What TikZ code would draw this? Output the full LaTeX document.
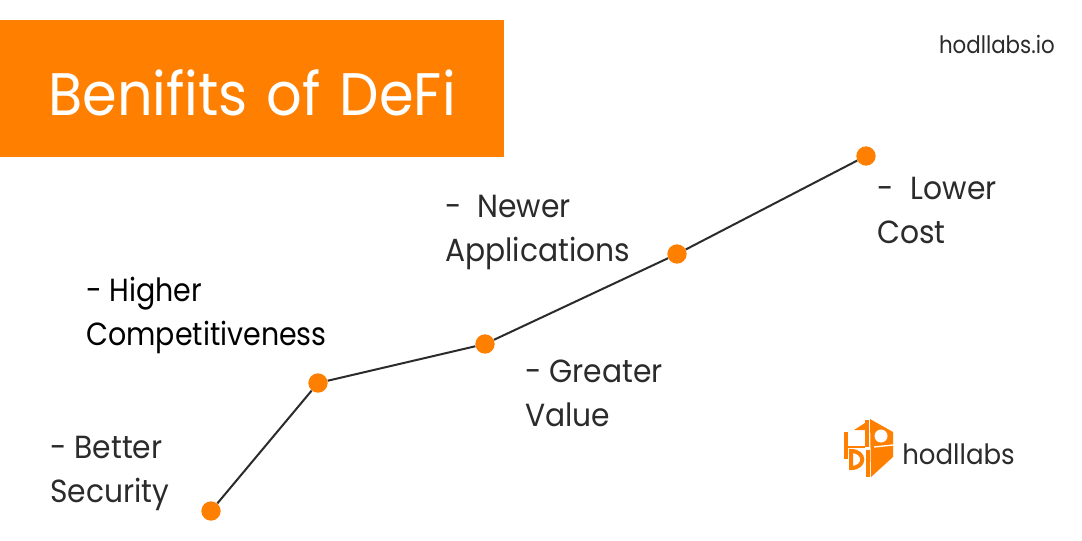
\documentclass[tikz,border=0pt]{standalone}
\usepackage{fontspec}
\setmainfont{Poppins}[FakeStretch=0.93]
\newfontfamily\titlefont{Poppins}[FakeStretch=0.93]
\newfontfamily\tightfont{Poppins}[FakeStretch=0.89]
\definecolor{hodl}{HTML}{FF8000}
\definecolor{ink}{HTML}{2B2B2B}
\tikzset{
 dot/.style={circle,fill=hodl,draw=none,minimum size=14.5pt,inner sep=0pt},
 lab/.style={anchor=north west,inner sep=0pt,align=left,font=\fontsize{24}{33}\selectfont,text=ink},
 lnk/.style={draw=ink,line width=1.5pt},
}
\begin{document}
\begin{tikzpicture}[x=0.75pt,y=-0.75pt]
\useasboundingbox (0,0) rectangle (1082,540);
\fill[white] (0,0) rectangle (1082,540);
\node[fill=hodl,minimum width=378pt,minimum height=102.75pt,anchor=north west,inner sep=0pt] (banner) at (0,20) {};
\node[anchor=west,inner sep=0pt,text=white,font=\titlefont\fontsize{45}{50}\selectfont] (title) at (48,93) {Benifits\hspace{3pt} of\hspace{3pt} DeFi};
\node[anchor=east,inner sep=0pt,font=\tightfont\fontsize{18}{20}\selectfont,text=ink] (site) at (1055,44) {hodllabs.io};
\node[dot] (a) at (211,511) {};
\node[dot] (b) at (318,383) {};
\node[dot] (c) at (485,344) {};
\node[dot] (d) at (677,254) {};
\node[dot] (e) at (866,156) {};
\draw[lnk] (a)--(b)--(c)--(d)--(e);
\node[lab] (l1) at (50,436) {- Better\\Security};
\node[lab,text=black,font=\tightfont\fontsize{24}{33}\selectfont] (l2) at (86,277) {- Higher\\Competitiveness};
\node[lab] (l3) at (525,360) {- Greater\\Value};
\node[lab] (l4) at (445,195) {-\hspace{6pt} Newer\\Applications};
\node[lab] (l5) at (877,177) {-\hspace{7pt} Lower\\Cost};
\node[anchor=west,inner sep=0pt,font=\fontsize{21}{24}\selectfont,text=ink] (brand) at (902,454) {hodllabs};
% logo
\fill[hodl] (870,419) -- (893,432) -- (893,457) -- (871,477) -- cycle;
\fill[white] (881,436) circle (6.5);
\draw[white,line width=1pt] (874,447) -- (893,445);
\fill[hodl] (844,432) rectangle (848,459);
\fill[hodl] (854,430) -- (865,423) -- (865,430) -- cycle;
\fill[hodl] (865,420) rectangle (868.5,447);
\fill[hodl] (844,446) rectangle (865,448);
\draw[hodl,line width=3pt] (851,451) .. controls (866,451) and (866,468) .. (851,468) -- cycle;
\fill[hodl] (866,450) rectangle (870,477);
\end{tikzpicture}
\end{document}
